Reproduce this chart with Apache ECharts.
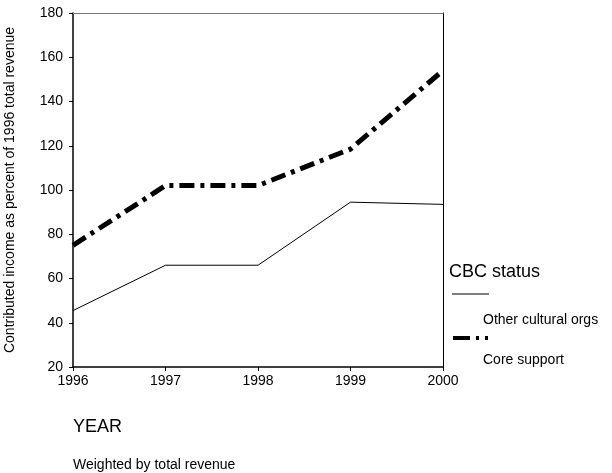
<!DOCTYPE html>
<html><head><meta charset="utf-8">
<script src="https://cdn.jsdelivr.net/npm/echarts@6/dist/echarts.min.js"></script>
<style>html,body{margin:0;padding:0;background:#fff}#c{width:612px;height:473px}</style>
</head><body><div id="c"></div>
<script>
var years = ['1996','1997','1998','1999','2000'];
var otherCultural = [45.5, 66, 66, 94.5, 93.5];
var coreSupport = [75, 102, 102, 118.5, 154];
var yTicks = [20, 180, 20]; // min, max, interval

var FF = 'Liberation Sans, Arial, sans-serif';
var chart = echarts.init(document.getElementById('c'), null, {renderer:'canvas'});
chart.setOption({
  animation:false,
  backgroundColor:'#fff',
  grid:{left:73, top:13, right:169, bottom:106, show:false, containLabel:false, outerBoundsMode:'none'},
  xAxis:[{type:'category', data:years, boundaryGap:false,
    axisLine:{lineStyle:{color:'#000', width:1.5}},
    axisTick:{length:4, lineStyle:{color:'#000'}},
    axisLabel:{color:'#000', fontFamily:FF, fontSize:14, margin:7},
    splitLine:{show:false}},
    {type:'category', data:years, boundaryGap:false, position:'top',
    axisLine:{lineStyle:{color:'#777', width:1}},
    axisTick:{show:false}, axisLabel:{show:false}}],
  yAxis:[{type:'value', min:yTicks[0], max:yTicks[1], interval:yTicks[2],
    name:'Contributed income as percent of 1996 total revenue',
    nameLocation:'middle', nameGap:56, nameRotate:90,
    nameTextStyle:{color:'#000', fontFamily:FF, fontSize:14},
    axisLine:{show:true, lineStyle:{color:'#000', width:1.5}},
    axisTick:{show:true, length:4, lineStyle:{color:'#000'}},
    axisLabel:{color:'#000', fontFamily:FF, fontSize:14, margin:10},
    splitLine:{show:false}},
    {type:'value', min:yTicks[0], max:yTicks[1], interval:yTicks[2], position:'right',
    axisLine:{show:true, lineStyle:{color:'#000', width:1}},
    axisTick:{show:false}, axisLabel:{show:false}, splitLine:{show:false}}],
  series:[
    {name:'Other cultural orgs', type:'line', data:otherCultural, symbol:'none',
     lineStyle:{color:'#000', width:1}},
    {name:'Core support', type:'line', data:coreSupport, symbol:'none',
     lineStyle:{color:'#000', width:5, type:[15,6,4,6], cap:'butt'}}
  ],
  graphic:[
    {type:'text', x:449, y:272, style:{text:'CBC status', fill:'#000', font:'18px '+FF, textVerticalAlign:'middle'}},
    {type:'line', shape:{x1:452, y1:294, x2:489, y2:294}, style:{stroke:'#000', lineWidth:1}},
    {type:'text', x:483, y:320, style:{text:'Other cultural orgs', fill:'#000', font:'14px '+FF, textVerticalAlign:'middle'}},
    {type:'line', shape:{x1:453, y1:338, x2:489, y2:338}, style:{stroke:'#000', lineWidth:4, lineDash:[17,6,3,6,3,10]}},
    {type:'text', x:483, y:360, style:{text:'Core support', fill:'#000', font:'14px '+FF, textVerticalAlign:'middle'}},
    {type:'text', x:73, y:427, style:{text:'YEAR', fill:'#000', font:'18px '+FF, textVerticalAlign:'middle'}},
    {type:'text', x:73, y:465, style:{text:'Weighted by total revenue', fill:'#000', font:'14px '+FF, textVerticalAlign:'middle'}}
  ]
});
</script></body></html>
